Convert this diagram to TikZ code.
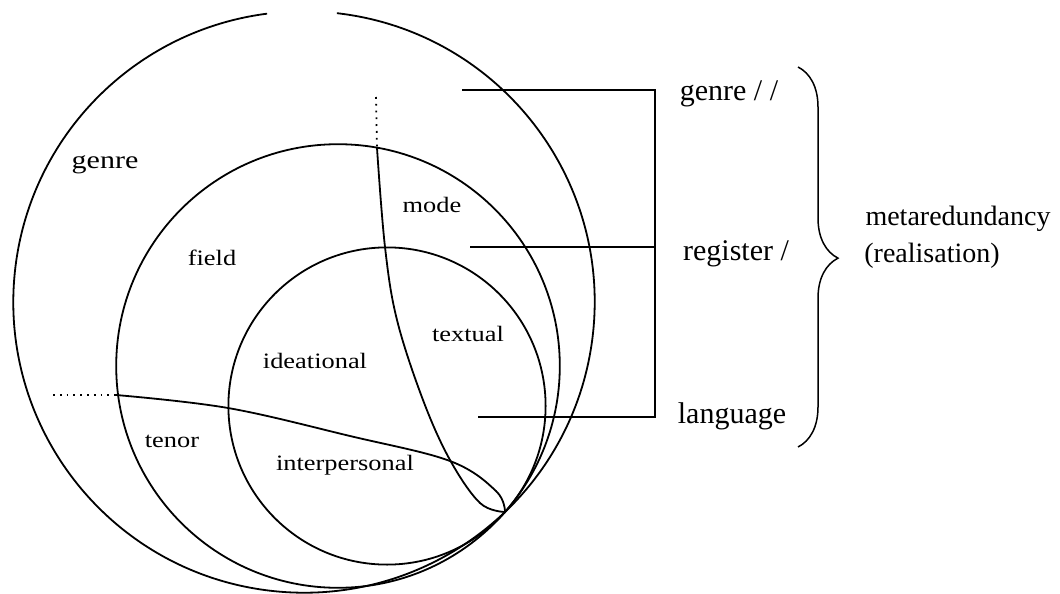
\documentclass[tikz,border=0pt]{standalone}
\usepackage{fontspec}
\setmainfont{Liberation Serif}
\newfontfamily\lblfont[FakeStretch=1.2]{Liberation Serif}
\usetikzlibrary{decorations.pathreplacing}
\begin{document}
\begin{tikzpicture}[x=1pt,y=-1pt,
  ln/.style={line width=1.8pt},
  dotln/.style={line width=1.8pt, dash pattern=on 1.8pt off 5pt},
  small/.style={font=\lblfont\fontsize{22}{24}\selectfont, anchor=base, inner sep=0pt},
  big/.style={font=\fontsize{30}{32}\selectfont, anchor=base, inner sep=0pt},
  meta/.style={font=\fontsize{28}{30}\selectfont, anchor=base, inner sep=0pt}]
\useasboundingbox[fill=white] (0,0) rectangle (1060,594);

\coordinate (P) at (505,512);
\coordinate (cG) at (304,302);
\coordinate (cF) at (338,366);
\coordinate (cL) at (387,406);

% circles
\draw[ln] (cG) ++(-83.5:290.7) arc[start angle=-83.5, end angle=262.7, radius=290.7];
\draw[ln] (cF) circle[radius=221.8];
\draw[ln] (cL) circle[radius=158.6];

% dotted extensions
\coordinate (S0) at (377,148);
\coordinate (S00) at (376,97);
\coordinate (T0) at (116,395);
\coordinate (T00) at (53,395);
\draw[dotln] (S00) -- (S0);
\draw[dotln] (T00) -- (T0);

% mode/textual separator
\draw[ln] plot[smooth, tension=0.6] coordinates {(377,148) (385,247) (397,320) (423,400) (450,460) (480,503) (505,512)};
% tenor/interpersonal separator
\draw[ln] plot[smooth, tension=0.6] coordinates {(116,395) (228,408) (350,436) (450,461) (496,491) (505,512)};

% connector lines
\coordinate (gA) at (462,90);
\coordinate (gB) at (655,90);
\coordinate (rA) at (470,247);
\coordinate (rB) at (655,247);
\coordinate (lA) at (478,417);
\coordinate (lB) at (655,417);
\draw[ln] (gA) -- (gB) -- (lB) -- (lA);
\draw[ln] (rA) -- (rB);

% brace
\coordinate (br1) at (798,67);
\coordinate (br2) at (798,447);
\draw[line width=1.5pt, decorate, decoration={brace, amplitude=40pt, aspect=0.503}] (br1) -- (br2);

% labels
\node[small, font=\lblfont\fontsize{25}{27}\selectfont] (tGenre) at (105,168) {genre};
\node[small] (tField) at (212,265) {field};
\node[small] (tMode) at (432,212) {mode};
\node[small] (tTextual) at (468,341) {textual};
\node[small] (tIdea) at (315,368) {ideational};
\node[small] (tTenor) at (172,447) {tenor};
\node[small] (tInter) at (345,470) {interpersonal};

\node[big] (tGenreR) at (729,100) {genre / /};
\node[big] (tReg) at (736,260) {register /};
\node[big] (tLang) at (732,423) {language};
\node[meta] (tMeta) at (958,225) {metaredundancy};
\node[meta] (tReal) at (932,262) {(realisation)};
\end{tikzpicture}
\end{document}
